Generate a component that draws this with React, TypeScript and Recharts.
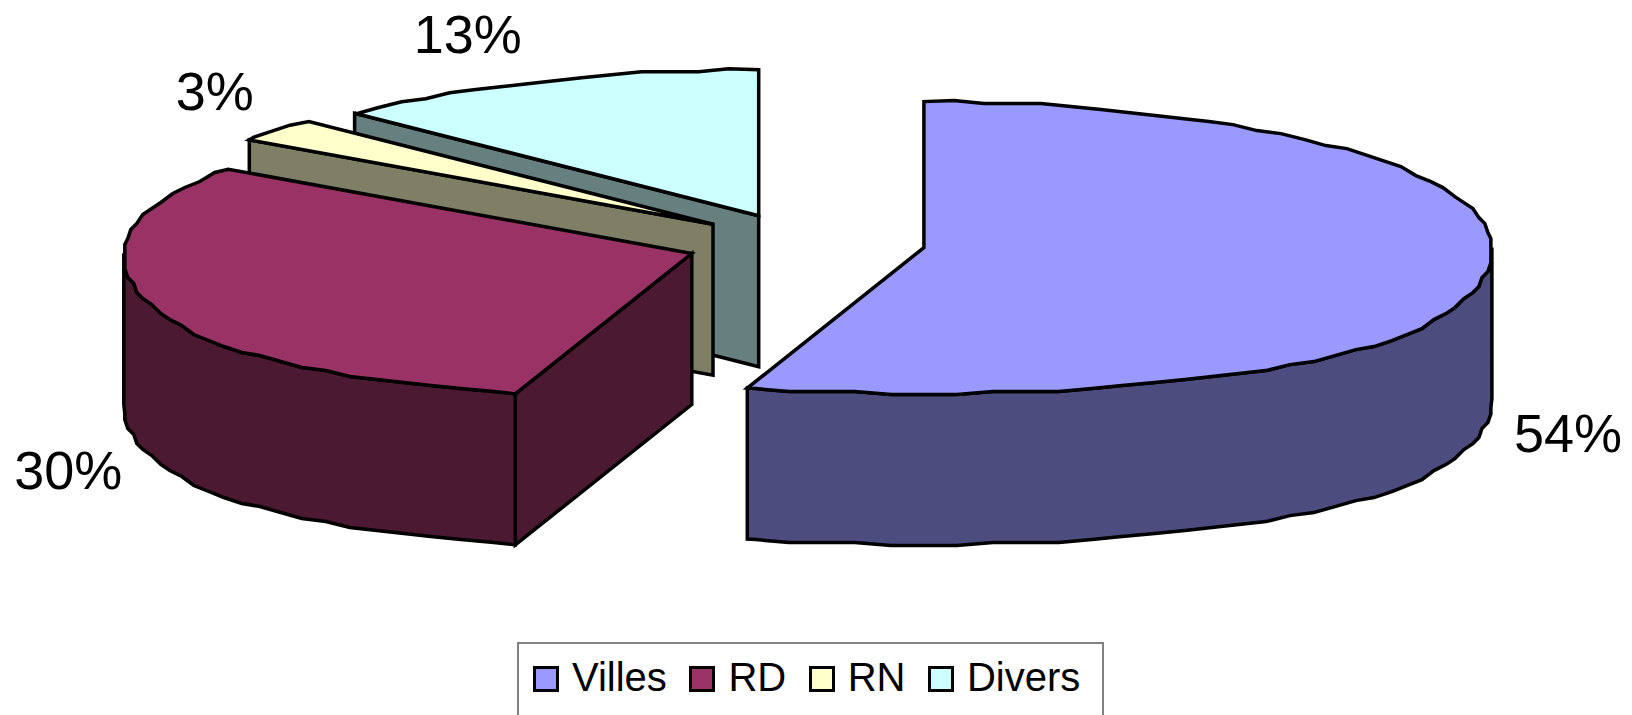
import React from "react";
import { PieChart, Pie, Cell, Legend } from "recharts";

// Drawn back-to-front, so the slices run counter-clockwise from 12 o'clock.
const categories = ["Divers", "RN", "RD", "Villes"];
const shares = [12.6, 2.6, 30.4, 54.4];
const tickLabels = ["13%", "3%", "30%", "54%"];
const topColors = ["#CCFFFF", "#FFFFCC", "#993366", "#9999FF"];
const sideColors = ["#667F7F", "#7F7F66", "#4C1933", "#4C4C7F"];

const rows = categories.map((name, i) => ({ name, value: shares[i], label: tickLabels[i], side: sideColors[i] }));

const W = 1632;
const H = 715;
const CX = 805;
const CY = 243.5;
const RX = 568;
const RY = 146;
const DEPTH = 151;
const EXPLODE_X = 120;
const EXPLODE_Y = 30;
const FRONT_STRETCH = 0.15;
const SNAP = 3;
const STEP_DEG = 3;
const FONT = '"Liberation Sans", Arial, sans-serif';
const labelNudge: Record<string, [number, number]> = {
  Villes: [80, 165],
  RD: [-79, 168],
  RN: [-63, -39],
  Divers: [-72, -47],
};

const rad = (d: number) => (d * Math.PI) / 180;
const rim = (deg: number) => {
  const s = Math.cos(rad(deg));
  const c = Math.sin(rad(deg));
  const front = Math.max(0, -c);
  return { x: RX * s * (1 + FRONT_STRETCH * front * front), y: -RY * c };
};
const apexOf = (cx: number, cy: number, mid: number) => ({
  x: cx + EXPLODE_X * Math.cos(rad(mid)),
  y: cy - EXPLODE_Y * Math.sin(rad(mid)),
});
const toPath = (pts: { x: number; y: number }[]) =>
  "M" + pts.map((p) => `${p.x.toFixed(1)},${p.y.toFixed(1)}`).join("L") + "Z";

// The reference's rims are slightly stepped polylines: sample on a shared angle grid and snap the inner vertices,
// so that the top face and the outer wall of a slice share the same vertices.
function arcPoints(a: number, b: number, ox: number, oy: number) {
  const angles = [a];
  for (let d = Math.ceil(a / STEP_DEG + 0.01) * STEP_DEG; d < b; d += STEP_DEG) angles.push(d);
  angles.push(b);
  return angles.map((d) => {
    const p = rim(d);
    const end = d === a || d === b;
    return {
      x: ox + (end ? p.x : Math.round(p.x / SNAP) * SNAP),
      y: oy + (end ? p.y : Math.round(p.y / SNAP) * SNAP),
    };
  });
}

function Slice3D(props: any) {
  const { cx, cy, startAngle, endAngle, midAngle, fill, payload } = props;
  const side = payload?.side ?? props.side;
  const apex = apexOf(cx, cy, midAngle);
  const m = rim(midAngle);
  const stroke = { stroke: "#000", strokeWidth: 3.5, strokeLinejoin: "miter" as const };

  const faces = [startAngle, endAngle]
    .map((deg: number) => {
      const v = rim(deg);
      let nx = -v.y;
      let ny = v.x;
      if (nx * m.x + ny * m.y > 0) {
        nx = -nx;
        ny = -ny;
      }
      if (ny <= 1) return null;
      const e = { x: apex.x + v.x, y: apex.y + v.y };
      return toPath([
        apex,
        e,
        { x: e.x, y: e.y + DEPTH },
        { x: apex.x, y: apex.y + DEPTH },
      ]);
    })
    .filter(Boolean) as string[];

  const a = Math.max(startAngle, 180);
  const b = Math.min(endAngle, 360);
  let wall = null;
  if (b > a) {
    const upper = arcPoints(a, b, apex.x, apex.y);
    const lower = upper.map((p) => ({ x: p.x, y: p.y + DEPTH })).reverse();
    wall = toPath([...upper, ...lower]);
  }
  const top = toPath([apex, ...arcPoints(startAngle, endAngle, apex.x, apex.y)]);

  return (
    <g>
      {faces.map((d, i) => (
        <path key={i} d={d} fill={side} {...stroke} />
      ))}
      {wall && <path d={wall} fill={side} {...stroke} />}
      <path d={top} fill={fill} {...stroke} />
    </g>
  );
}

function renderLabel(props: any) {
  const { cx, cy, midAngle, payload } = props;
  const row = payload?.payload ?? payload ?? props;
  const name = row.name ?? props.name;
  const apex = apexOf(cx, cy, midAngle);
  const m = rim(midAngle);
  const n = labelNudge[name] ?? [0, 0];
  return (
    <text
      x={apex.x + m.x + n[0]}
      y={apex.y + m.y + n[1]}
      textAnchor="middle"
      dominantBaseline="central"
      fontFamily={FONT}
      fontSize={54}
      fill="#000"
    >
      {row.label ?? props.label}
    </text>
  );
}

function LegendBox({ payload }: any) {
  const items = [...(payload ?? [])].reverse();
  return (
    <div
      style={{
        boxSizing: "border-box",
        width: 587,
        height: 90,
        border: "2px solid #808080",
        background: "#fff",
        display: "flex",
        alignItems: "flex-start",
        paddingLeft: 14,
        paddingTop: 10,
        gap: 22.5,
        fontFamily: FONT,
        fontSize: 40,
        lineHeight: "46px",
        color: "#000",
      }}
    >
      {items.map((it: any) => (
        <div key={it.value} style={{ display: "flex", alignItems: "center", gap: 13 }}>
          <span
            style={{
              boxSizing: "border-box",
              width: 26,
              height: 26,
              border: "3px solid #000",
              background: it.color,
              display: "block",
              marginTop: 3,
            }}
          />
          <span>{it.value}</span>
        </div>
      ))}
    </div>
  );
}

export default function App() {
  return (
    <div style={{ position: "absolute", left: 0, top: 0, width: W, height: H, overflow: "hidden", background: "#fff" }}>
      <PieChart width={W} height={H} margin={{ top: 0, right: 0, bottom: 0, left: 0 }}>
        <Pie
          data={rows}
          dataKey="value"
          nameKey="name"
          cx={CX}
          cy={CY}
          innerRadius={0}
          outerRadius={RX}
          startAngle={90}
          endAngle={450}
          stroke="none"
          isAnimationActive={false}
          shape={Slice3D}
          label={renderLabel}
          labelLine={false}
        >
          {rows.map((r, i) => (
            <Cell key={r.name} fill={topColors[i]} />
          ))}
        </Pie>
        <Legend
          content={LegendBox}
          itemSorter={null}
          wrapperStyle={{ position: "absolute", left: 517, top: 642, width: 587, bottom: "auto" }}
        />
      </PieChart>
    </div>
  );
}
